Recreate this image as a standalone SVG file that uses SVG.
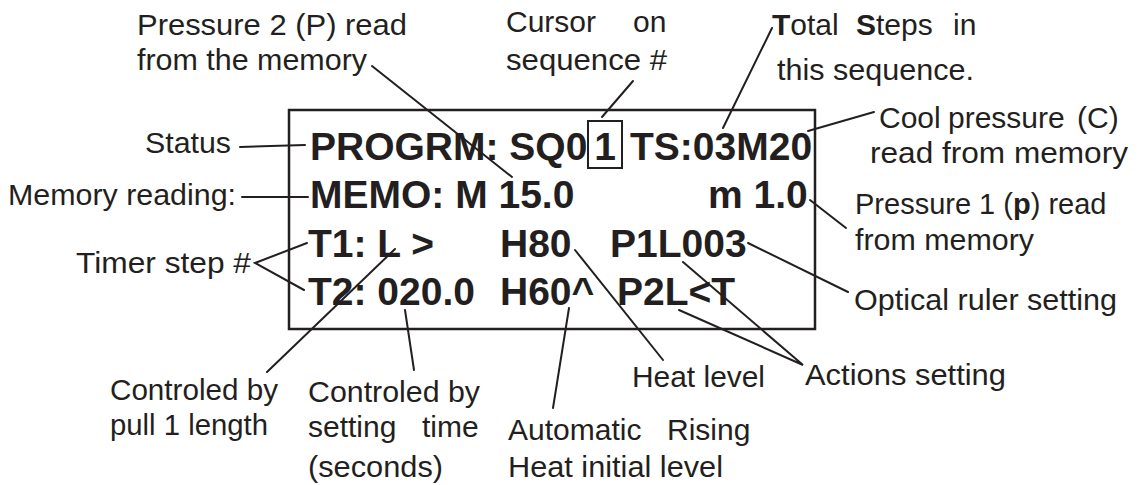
<svg xmlns="http://www.w3.org/2000/svg" width="1140" height="485" viewBox="0 0 1140 485">
<style>
.lbl{font-family:"Liberation Sans",Arial,sans-serif;font-size:30px;fill:#231f20}
.lcd{font-family:"Liberation Sans",Arial,sans-serif;font-size:39px;font-weight:bold;fill:#231f20}
.b{font-weight:bold}
.ln{stroke:#231f20;stroke-width:2;fill:none;stroke-linecap:round;stroke-linejoin:miter}
</style>
<rect width="1140" height="485" fill="#ffffff"/>
<g id="display">
<rect x="289" y="110" width="526" height="219" fill="none" stroke="#231f20" stroke-width="2.5"/>
<rect x="588" y="121" width="34" height="47" fill="none" stroke="#231f20" stroke-width="2"/>
<text class="lcd" x="310" y="160">PROGRM: SQ0</text>
<text class="lcd" x="605" y="160" text-anchor="middle">1</text>
<text class="lcd" x="630" y="160">TS:03M20</text>
<text class="lcd" x="310" y="208">MEMO: M 15.0</text>
<text class="lcd" x="708" y="208">m 1.0</text>
<text class="lcd" x="308" y="257">T1: L &gt;</text>
<text class="lcd" x="500" y="257">H80</text>
<text class="lcd" x="610" y="257">P1L003</text>
<text class="lcd" x="308" y="305">T2: 020.0</text>
<text class="lcd" x="500" y="305">H60^</text>
<text class="lcd" x="617" y="305">P2L&lt;T</text>
</g>
<g id="label-pressure2">
<text class="lbl" x="137" y="35" textLength="270" lengthAdjust="spacingAndGlyphs">Pressure 2 (P) read</text>
<text class="lbl" x="137" y="70" textLength="230" lengthAdjust="spacingAndGlyphs">from the memory</text>
</g>
<g id="label-cursor">
<text class="lbl" y="32"><tspan x="506">Cursor</tspan> <tspan x="633">on</tspan></text>
<text class="lbl" x="506" y="70" textLength="161" lengthAdjust="spacingAndGlyphs">sequence #</text>
</g>
<g id="label-total">
<text class="lbl" y="35"><tspan x="772"><tspan class="b">T</tspan>otal</tspan> <tspan x="856"><tspan class="b">S</tspan>teps</tspan> <tspan x="953">in</tspan></text>
<text class="lbl" x="777" y="80" textLength="197" lengthAdjust="spacingAndGlyphs">this sequence.</text>
</g>
<g id="label-cool">
<text class="lbl" y="128"><tspan x="879">Cool</tspan> <tspan x="948">pressure</tspan> <tspan x="1077">(C)</tspan></text>
<text class="lbl" x="870" y="163" textLength="258" lengthAdjust="spacingAndGlyphs">read from memory</text>
</g>
<g id="label-status">
<text class="lbl" x="145" y="153" textLength="86" lengthAdjust="spacingAndGlyphs">Status</text>
</g>
<g id="label-memory">
<text class="lbl" x="8" y="205" textLength="228" lengthAdjust="spacingAndGlyphs">Memory reading:</text>
</g>
<g id="label-timer">
<text class="lbl" x="76" y="273" textLength="175" lengthAdjust="spacingAndGlyphs">Timer step #</text>
</g>
<g id="label-pressure1">
<text class="lbl" x="855" y="214" style="font-size:29px">Pressure 1 (<tspan class="b">p</tspan>) read</text>
<text class="lbl" x="855" y="250" textLength="179" lengthAdjust="spacingAndGlyphs">from memory</text>
</g>
<g id="label-optical">
<text class="lbl" x="854" y="310" textLength="263" lengthAdjust="spacingAndGlyphs">Optical ruler setting</text>
</g>
<g id="label-pull">
<text class="lbl" x="110" y="400" textLength="168" lengthAdjust="spacingAndGlyphs">Controled by</text>
<text class="lbl" x="110" y="435" textLength="158" lengthAdjust="spacingAndGlyphs">pull 1 length</text>
</g>
<g id="label-time">
<text class="lbl" x="308" y="402" textLength="172" lengthAdjust="spacingAndGlyphs">Controled by</text>
<text class="lbl" y="437"><tspan x="308">setting</tspan> <tspan x="422">time</tspan></text>
<text class="lbl" x="308" y="477" textLength="135" lengthAdjust="spacingAndGlyphs">(seconds)</text>
</g>
<g id="label-heat">
<text class="lbl" x="632" y="387" textLength="133" lengthAdjust="spacingAndGlyphs">Heat level</text>
</g>
<g id="label-actions">
<text class="lbl" x="805" y="385" textLength="201" lengthAdjust="spacingAndGlyphs">Actions setting</text>
</g>
<g id="label-auto">
<text class="lbl" y="440"><tspan x="508">Automatic</tspan> <tspan x="667">Rising</tspan></text>
<text class="lbl" x="508" y="477" textLength="215" lengthAdjust="spacingAndGlyphs">Heat initial level</text>
</g>
<g id="connectors">
<line class="ln" x1="240" y1="147" x2="305" y2="145"/>
<line class="ln" x1="242" y1="197" x2="308" y2="197"/>
<polyline class="ln" points="307,243 255,263 304,290"/>
<line class="ln" x1="372" y1="66" x2="512" y2="177"/>
<line class="ln" x1="633" y1="81" x2="602" y2="117"/>
<line class="ln" x1="772" y1="28" x2="723" y2="128"/>
<line class="ln" x1="808" y1="131" x2="874" y2="112"/>
<line class="ln" x1="810" y1="200" x2="846" y2="228"/>
<line class="ln" x1="748" y1="243" x2="848" y2="292"/>
<polyline class="ln" points="683,262 803,365 679,310"/>
<line class="ln" x1="575" y1="250" x2="663" y2="360"/>
<line class="ln" x1="569" y1="308" x2="553" y2="408"/>
<line class="ln" x1="405" y1="310" x2="414" y2="370"/>
<line class="ln" x1="395" y1="249" x2="267" y2="372"/>
</g>
</svg>
